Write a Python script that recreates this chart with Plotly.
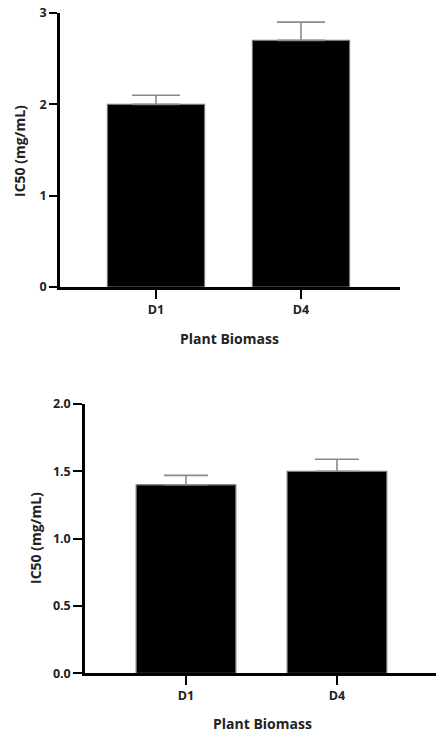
import plotly.graph_objects as go

categories = ["D1", "D4"]
top_values = [2.0, 2.7]
top_errors = [0.1, 0.2]
bottom_values = [1.4, 1.5]
bottom_errors = [0.07, 0.09]
top_yticks = [0, 1, 2, 3]
bottom_yticks = [0, 0.5, 1.0, 1.5, 2.0]

W, H = 436, 755
TICKFONT = dict(family="Open Sans, sans-serif", size=12.5, color="#222222", weight="bold")
TITLEFONT = dict(family="Open Sans, sans-serif", size=14, color="#222222", weight="bold")


def fx(px):
    return px / W


def fy(py):
    return 1 - py / H


fig = go.Figure()

fig.add_trace(go.Bar(
    x=categories, y=top_values, width=0.67,
    marker=dict(color="black", line=dict(color="#777777", width=1.2)),
    error_y=dict(type="data", array=top_errors, arrayminus=[0, 0], symmetric=False,
                 color="#8a8a8a", thickness=1.6, width=24),
    xaxis="x", yaxis="y", showlegend=False,
))
fig.add_trace(go.Bar(
    x=categories, y=bottom_values, width=0.66,
    marker=dict(color="black", line=dict(color="#777777", width=1.2)),
    error_y=dict(type="data", array=bottom_errors, arrayminus=[0, 0], symmetric=False,
                 color="#8a8a8a", thickness=1.6, width=22),
    xaxis="x2", yaxis="y2", showlegend=False,
))

axis_common = dict(showgrid=False, zeroline=False, showline=True, linecolor="black",
                   linewidth=2.5, ticks="outside", tickcolor="black", tickwidth=2,
                   tickfont=TICKFONT)

ann_common = dict(xref="paper", yref="paper", showarrow=False, font=TITLEFONT,
                  xanchor="center", yanchor="middle")

fig.update_layout(
    width=W, height=H,
    margin=dict(l=0, r=0, t=0, b=0, autoexpand=False),
    paper_bgcolor="white", plot_bgcolor="white",
    xaxis=dict(domain=[fx(60), fx(400)], range=[-0.662, 1.683], anchor="y",
               ticklen=9, **axis_common),
    yaxis=dict(domain=[fy(287), fy(13)], range=[0, 3], anchor="x",
               tickvals=top_yticks, ticklen=8, **axis_common),
    xaxis2=dict(domain=[fx(85), fx(436)], range=[-0.669, 1.656], anchor="y2",
                ticklen=9, **axis_common),
    yaxis2=dict(domain=[fy(673.3), fy(404)], range=[0, 2], anchor="x2",
                tickvals=bottom_yticks, tickformat=".1f", ticklen=9, **axis_common),
    annotations=[
        dict(text="Plant Biomass", x=fx(229), y=fy(338), **ann_common),
        dict(text="IC50 (mg/mL)", x=fx(20), y=fy(151), textangle=-90, **ann_common),
        dict(text="Plant Biomass", x=fx(262), y=fy(723), **ann_common),
        dict(text="IC50 (mg/mL)", x=fx(35), y=fy(538), textangle=-90, **ann_common),
    ],
)

fig.write_html("out.html", config={"displayModeBar": False},
               post_script="document.body.style.margin='0';")
